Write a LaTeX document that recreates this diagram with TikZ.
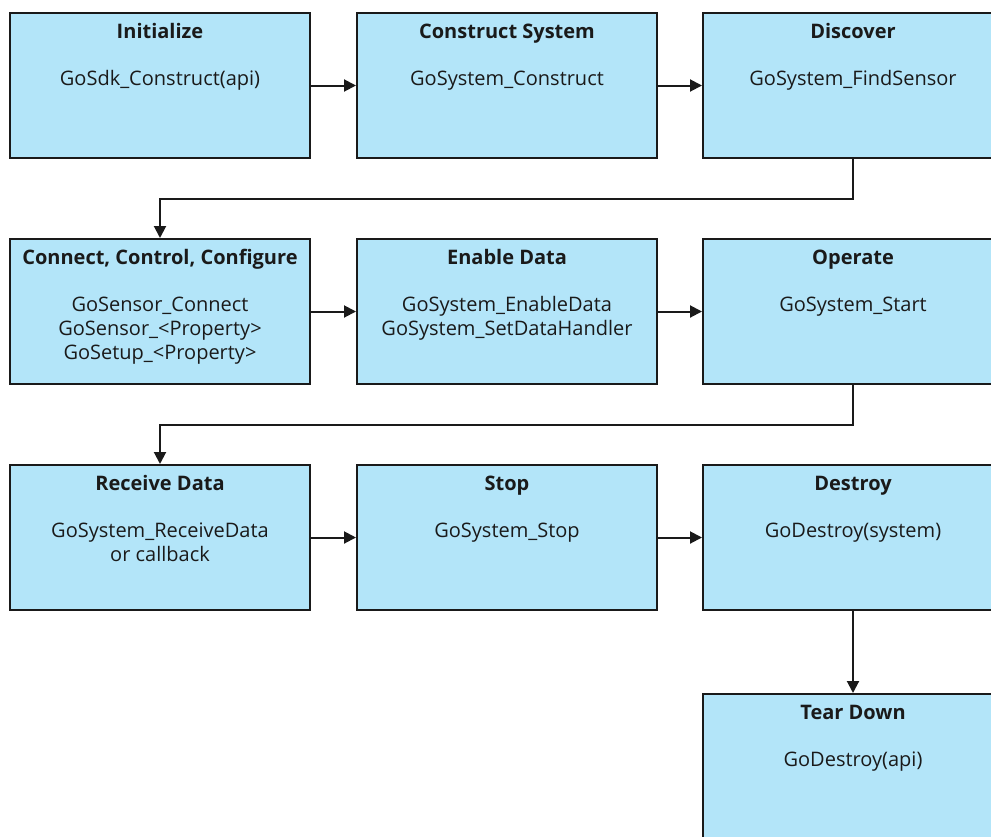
\documentclass[tikz,border=0pt]{standalone}
\usepackage{fontspec}
\setmainfont{Open Sans}
\usetikzlibrary{arrows.meta,positioning}
\definecolor{boxfill}{HTML}{B3E5F9}
\definecolor{ink}{HTML}{1A1A1A}
\begin{document}
\begin{tikzpicture}[x=1pt,y=-1pt,
  stagebox/.style={draw=ink,line width=2pt,fill=boxfill,minimum width=300pt,minimum height=145pt,anchor=north west,inner sep=0pt},
  ttl/.style={font=\fontsize{20}{24}\selectfont\bfseries,text=ink,anchor=base,inner sep=0pt},
  bdy/.style={font=\fontsize{20}{24}\selectfont,text=ink,anchor=base,inner sep=0pt},
  arr/.style={draw=ink,line width=2pt,-{Triangle[length=12pt,width=12pt]}}]
\useasboundingbox (0,0) rectangle (991,836);
\clip (0,0) rectangle (991,836);
\newcommand{\stage}[4]{%
  \node[stagebox] (#1) at (#2,#3) {};
  \node[ttl] (#1t) at ([yshift=-26pt]#1.north) {#4};}
\newcommand{\bodyline}[4]{\node[bdy] (#1) at ([yshift=-#3]#2.north) {#4};}
\stage{init}{9}{12}{Initialize}
\bodyline{initb}{init}{73pt}{GoSdk\_Construct(api)}
\stage{cons}{356}{12}{Construct System}
\bodyline{consb}{cons}{73pt}{GoSystem\_Construct}
\stage{disc}{702}{12}{Discover}
\bodyline{discb}{disc}{73pt}{GoSystem\_FindSensor}
\stage{conn}{9}{238}{Connect, Control, Configure}
\bodyline{connb1}{conn}{73pt}{GoSensor\_Connect}
\bodyline{connb2}{conn}{97pt}{GoSensor\_<Property>}
\bodyline{connb3}{conn}{121pt}{GoSetup\_<Property>}
\stage{enab}{356}{238}{Enable Data}
\bodyline{enabb1}{enab}{73pt}{GoSystem\_EnableData}
\bodyline{enabb2}{enab}{97pt}{GoSystem\_SetDataHandler}
\stage{oper}{702}{238}{Operate}
\bodyline{operb}{oper}{73pt}{GoSystem\_Start}
\stage{recv}{9}{464}{Receive Data}
\bodyline{recvb1}{recv}{73pt}{GoSystem\_ReceiveData}
\bodyline{recvb2}{recv}{97pt}{or callback}
\stage{stop}{356}{464}{Stop}
\bodyline{stopb}{stop}{73pt}{GoSystem\_Stop}
\stage{dest}{702}{464}{Destroy}
\bodyline{destb}{dest}{73pt}{GoDestroy(system)}
\stage{tear}{702}{693}{Tear Down}
\bodyline{tearb}{tear}{73pt}{GoDestroy(api)}
\draw[arr] (init.east) -- (cons.west);
\draw[arr] ([xshift=-2pt]cons.east) -- (disc.west);
\draw[arr] (disc.south) -- ++(0,40) -| (conn.north);
\draw[arr] (conn.east) -- (enab.west);
\draw[arr] (enab.east) -- (oper.west);
\draw[arr] (oper.south) -- ++(0,40) -| (recv.north);
\draw[arr] (recv.east) -- (stop.west);
\draw[arr] (stop.east) -- (dest.west);
\draw[arr] (dest.south) -- (tear.north);
\end{tikzpicture}
\end{document}
